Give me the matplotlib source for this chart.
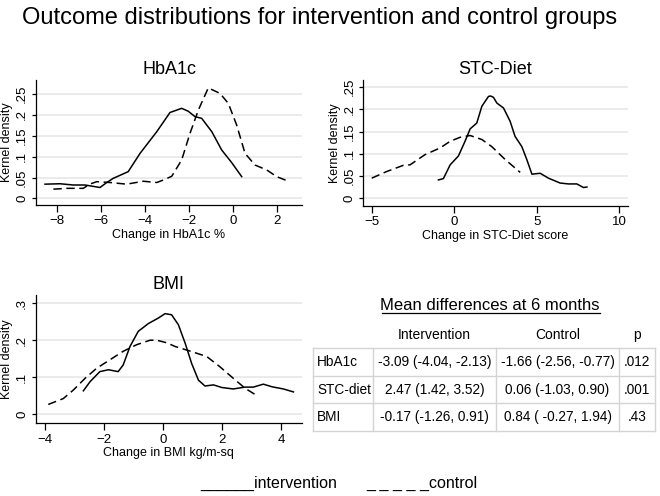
import numpy as np
import matplotlib
matplotlib.use("Agg")
from matplotlib import pyplot as plt
from matplotlib.ticker import FuncFormatter

plt.rcParams['font.family'] = ['Liberation Sans', 'DejaVu Sans']

# HbA1c kernel densities
hba1c_int_x = [-8.53, -7.85, -7.25, -6.71, -6.03, -5.75, -5.43, -4.75, -4.21, -3.45, -2.85, -2.32,
               -2.02, -1.71, -1.41, -0.95, -0.5, -0.05, 0.41]
hba1c_int_y = [0.034, 0.035, 0.032, 0.032, 0.026, 0.037, 0.048, 0.064, 0.108, 0.160, 0.206, 0.216,
               0.209, 0.196, 0.192, 0.160, 0.116, 0.086, 0.052]
hba1c_ctl_x = [-8.15, -7.55, -6.79, -6.5, -6.18, -5.58, -4.82, -4.06, -3.45, -3.1, -2.77, -2.32,
               -1.94, -1.56, -1.11, -0.58, -0.2, 0.18, 0.56, 1.01, 1.55, 2.0, 2.53]
hba1c_ctl_y = [0.022, 0.024, 0.024, 0.034, 0.040, 0.038, 0.034, 0.041, 0.038, 0.045, 0.053, 0.092,
               0.156, 0.212, 0.265, 0.252, 0.228, 0.176, 0.108, 0.080, 0.068, 0.052, 0.041]

# STC-Diet kernel densities
stc_int_x = [-0.96, -0.66, -0.25, 0.25, 0.65, 0.96, 1.36, 1.67, 2.07, 2.2, 2.37, 2.58, 2.98, 3.38,
             3.68, 4.09, 4.39, 4.7, 5.2, 5.7, 6.41, 6.92, 7.42, 7.82, 8.03]
stc_int_y = [0.041, 0.044, 0.075, 0.095, 0.128, 0.156, 0.169, 0.207, 0.229, 0.230, 0.227, 0.214,
             0.203, 0.173, 0.139, 0.116, 0.087, 0.054, 0.056, 0.045, 0.034, 0.032, 0.032, 0.024, 0.025]
stc_ctl_x = [-5.0, -4.09, -3.08, -2.68, -1.77, -0.86, -0.25, 0.35, 0.96, 1.67, 2.27, 3.08, 3.99]
stc_ctl_y = [0.045, 0.060, 0.074, 0.075, 0.098, 0.113, 0.128, 0.137, 0.141, 0.132, 0.116, 0.087, 0.058]

# BMI kernel densities
bmi_int_x = [-2.7, -2.47, -2.14, -1.85, -1.52, -1.35, -1.12, -0.84, -0.5, -0.16, 0.07, 0.29, 0.52,
             0.75, 0.97, 1.2, 1.42, 1.71, 1.99, 2.38, 2.78, 3.06, 3.4, 3.69, 4.08, 4.42]
bmi_int_y = [0.063, 0.088, 0.115, 0.120, 0.115, 0.133, 0.183, 0.224, 0.245, 0.260, 0.272, 0.269, 0.242,
             0.192, 0.137, 0.092, 0.076, 0.079, 0.072, 0.068, 0.073, 0.073, 0.081, 0.074, 0.068, 0.060]
bmi_ctl_x = [-3.89, -3.38, -3.04, -2.64, -2.25, -1.8, -1.35, -0.89, -0.44, -0.21, 0.13, 0.41, 0.86,
             1.48, 1.93, 2.38, 2.78, 3.18]
bmi_ctl_y = [0.026, 0.042, 0.065, 0.097, 0.124, 0.147, 0.170, 0.188, 0.200, 0.200, 0.193, 0.183, 0.172,
             0.156, 0.128, 0.097, 0.070, 0.050]

# table of mean differences
tbl_cols = ["Intervention", "Control", "p"]
tbl_rows = ["HbA1c", "STC-diet", "BMI"]
tbl_int = ["-3.09 (-4.04, -2.13)", "2.47 (1.42, 3.52)", "-0.17 (-1.26, 0.91)"]
tbl_ctl = ["-1.66 (-2.56, -0.77)", "0.06 (-1.03, 0.90)", "0.84 ( -0.27, 1.94)"]
tbl_p = [".012", ".001", ".43"]

W, H = 660, 496
fig = plt.figure(figsize=(W/100, H/100), dpi=100)


def px_axes(left, top, right, bottom):
    return fig.add_axes([left/W, 1-bottom/H, (right-left)/W, (bottom-top)/H])


def fmt(v, pos):
    s = f"{v:g}"
    if s.startswith("0."):
        s = s[1:]
    return s


def panel(rect, title, xlab, xlim, ylim, xticks, yticks, xi, yi, xc, yc):
    ax = px_axes(*rect)
    ax.plot(xi, yi, color='black', lw=1.1)
    ax.plot(xc, yc, color='black', lw=1.1, dashes=(5.5, 3))
    ax.set_xlim(*xlim)
    ax.set_ylim(*ylim)
    ax.set_xticks(xticks)
    ax.set_yticks(yticks)
    ax.yaxis.set_major_formatter(FuncFormatter(fmt))
    ax.grid(axis='y', color='#e6e6e6', lw=1.1)
    ax.set_axisbelow(True)
    for s in ['top', 'right']:
        ax.spines[s].set_visible(False)
    for s in ['left', 'bottom']:
        ax.spines[s].set_linewidth(0.9)
    ax.tick_params(axis='x', length=5, width=0.9, labelsize=9.5, pad=2.5)
    ax.tick_params(axis='y', length=3.2, width=0.9, labelsize=9.5, pad=2.5)
    for lab in ax.get_yticklabels():
        lab.set_rotation(90)
        lab.set_va('center')
    ax.set_xlabel(xlab, fontsize=9, labelpad=1)
    ax.set_ylabel("Kernel density", fontsize=9, labelpad=2)
    ax.set_title(title, fontsize=13, pad=4)
    return ax


panel((36, 80, 302, 205), "HbA1c", "Change in HbA1c %", (-8.94, 3.15), (-0.016, 0.284),
      [-8, -6, -4, -2, 0, 2], [0, 0.05, 0.1, 0.15, 0.2, 0.25],
      hba1c_int_x, hba1c_int_y, hba1c_ctl_x, hba1c_ctl_y)
panel((363.3, 80, 627.7, 205.7), "STC-Diet", "Change in STC-Diet score", (-5.51, 10.5), (-0.017, 0.266),
      [-5, 0, 5, 10], [0, 0.05, 0.1, 0.15, 0.2, 0.25],
      stc_int_x, stc_int_y, stc_ctl_x, stc_ctl_y)
panel((36, 295, 301.7, 423.3), "BMI", "Change in BMI kg/m-sq", (-4.305, 4.70), (-0.025, 0.3225),
      [-4, -2, 0, 2, 4], [0, 0.1, 0.2, 0.3],
      bmi_int_x, bmi_int_y, bmi_ctl_x, bmi_ctl_y)

fig.text(320/W, 1-18/H, "Outcome distributions for intervention and control groups",
         ha='center', va='center', fontsize=17)

# overlay in pixel coordinates for the table and legend text
ov = fig.add_axes([0, 0, 1, 1])
ov.set_xlim(0, W)
ov.set_ylim(H, 0)
ov.axis('off')

ov.text(490, 306, "Mean differences at 6 months", ha='center', va='center', fontsize=12)
ov.plot([381.5, 599.5], [313, 313], color='black', lw=0.9)

col_x = [313, 373.3, 495.7, 619.3, 655]
row_y = [348.3, 376, 403.3, 431]
grid_c = '#d4d4d4'
for x in col_x:
    ov.plot([x, x], [row_y[0], row_y[-1]], color=grid_c, lw=1)
for y in row_y:
    ov.plot([col_x[0], col_x[-1]], [y, y], color=grid_c, lw=1)

centers = [(col_x[i] + col_x[i+1]) / 2 for i in range(1, 4)]
for cx, name in zip(centers, tbl_cols):
    ov.text(cx, 335, name, ha='center', va='center', fontsize=10)
for i, name in enumerate(tbl_rows):
    cy = (row_y[i] + row_y[i+1]) / 2
    ov.text(317, cy, name, ha='left', va='center', fontsize=9.8)
    ov.text(centers[0], cy, tbl_int[i], ha='center', va='center', fontsize=9.8)
    ov.text(centers[1], cy, tbl_ctl[i], ha='center', va='center', fontsize=9.8)
    ov.text(centers[2], cy, tbl_p[i], ha='center', va='center', fontsize=9.8)

ov.text(200, 483, "______intervention", ha='left', va='center', fontsize=11.5)
ov.text(366, 483, "_ _ _ _ _control", ha='left', va='center', fontsize=11.5)

fig.savefig("out.png", dpi=100, facecolor='white')
